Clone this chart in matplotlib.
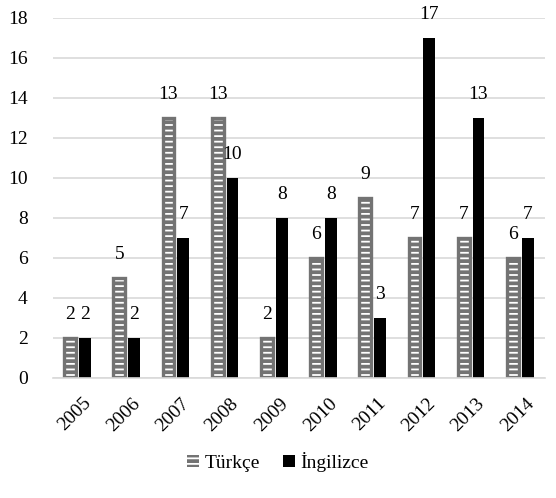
import matplotlib.pyplot as plt
import matplotlib.transforms as mtransforms
from matplotlib.patches import Patch
import numpy as np

plt.rcParams['font.family'] = ['Liberation Serif', 'DejaVu Serif']
plt.rcParams['hatch.linewidth'] = 1.3

years = ["2005", "2006", "2007", "2008", "2009", "2010", "2011", "2012", "2013", "2014"]
turkce = [2, 5, 13, 13, 2, 6, 9, 7, 7, 6]
ingilizce = [2, 2, 7, 10, 8, 8, 3, 17, 13, 7]

fig = plt.figure(figsize=(5.56, 4.98), dpi=100)
ax = fig.add_axes([0.095, 0.241, 0.885, 0.723])

x = np.arange(len(years))
w = 0.24
gray = "#737373"
xt = x - w / 2 - 0.03
xi = x + w / 2 + 0.03
# hatched gray bars: white dashes on gray, then gray outline on top
ax.bar(xt, turkce, w, color=gray, edgecolor="white", linewidth=0, hatch="---")
b1 = ax.bar(xt, turkce, w, fill=False, edgecolor=gray, linewidth=2.4, label="Türkçe")
b2 = ax.bar(xi, ingilizce, w, color="black", label="İngilizce")

for xx, v in zip(xt, turkce):
    ax.text(xx, v + 0.95, str(v), ha="center", va="baseline", fontsize=14)
for xx, v in zip(xi, ingilizce):
    ax.text(xx, v + 0.95, str(v), ha="center", va="baseline", fontsize=14)

ax.set_ylim(0, 18)
ax.set_xlim(-0.5, len(years) - 0.5)
ax.set_yticks(range(0, 19, 2))
ax.set_xticks(x)
ax.set_xticklabels(years, rotation=45, ha="right", rotation_mode="anchor")
ax.tick_params(axis="both", length=0, labelsize=14)
ax.tick_params(axis="y", pad=18)
ax.tick_params(axis="x", pad=12)
off = mtransforms.ScaledTranslation(5 / 100, 0, fig.dpi_scale_trans)
for lab in ax.get_xticklabels():
    lab.set_transform(lab.get_transform() + off)
ax.yaxis.grid(True, color="#d9d9d9", linewidth=1.2)
ax.set_axisbelow(True)
for s in ["top", "right", "left"]:
    ax.spines[s].set_visible(False)
ax.spines["bottom"].set_color("#d9d9d9")
ax.spines["bottom"].set_linewidth(1.2)

h1 = Patch(facecolor=gray, edgecolor="white", hatch="---", linewidth=0)
fig.legend(handles=[h1, b2], labels=["Türkçe", "İngilizce"], loc="center",
           bbox_to_anchor=(0.5, 0.072), ncol=2, frameon=False, fontsize=14,
           handlelength=0.6, handleheight=0.6, handletextpad=0.3, columnspacing=1.2)

fig.savefig("out.png", dpi=100)
